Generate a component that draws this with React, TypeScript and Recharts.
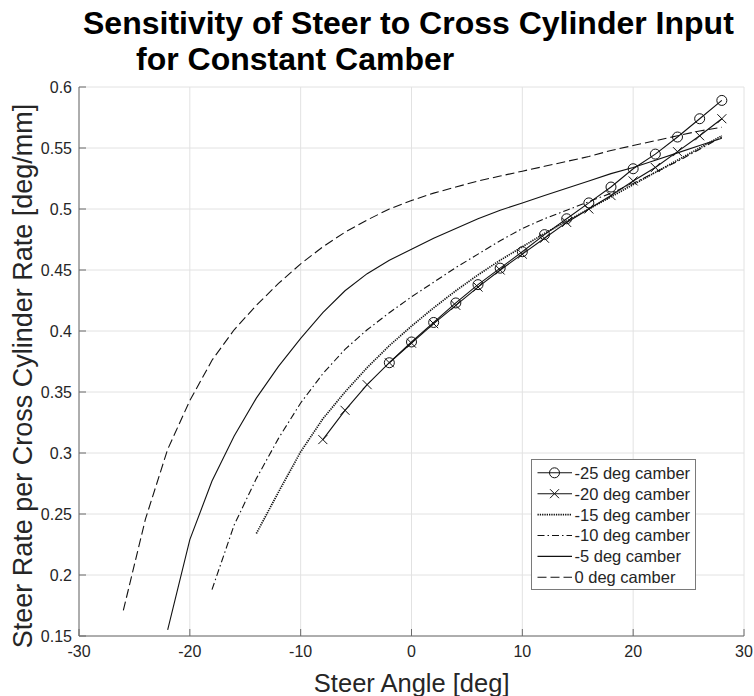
import React from 'react';
import { LineChart, Line, XAxis, YAxis, CartesianGrid, Legend } from 'recharts';

// ---------- data ----------
const steer25 = [-2, 0, 2, 4, 6, 8, 10, 12, 14, 16, 18, 20, 22, 24, 26, 28];
const rate25 = [0.374, 0.391, 0.407, 0.423, 0.438, 0.4515, 0.465, 0.479, 0.492, 0.505, 0.518, 0.533, 0.545, 0.559, 0.574, 0.589];

const steer20 = [-8, -6, -4, -2, 0, 2, 4, 6, 8, 10, 12, 14, 16, 18, 20, 22, 24, 26, 28];
const rate20 = [0.311, 0.335, 0.356, 0.374, 0.39, 0.406, 0.421, 0.436, 0.45, 0.463, 0.476, 0.489, 0.5, 0.511, 0.523, 0.534, 0.547, 0.56, 0.574];

const steer15 = [-14, -12, -10, -8, -6, -4, -2, 0, 2, 4, 6, 8, 10, 12, 14, 16, 18, 20, 22, 24, 26, 28];
const rate15 = [0.234, 0.268, 0.301, 0.328, 0.35, 0.37, 0.388, 0.404, 0.419, 0.433, 0.446, 0.458, 0.469, 0.48, 0.49, 0.5, 0.51, 0.52, 0.53, 0.54, 0.55, 0.56];

const steer10 = [-18, -16, -14, -12, -10, -8, -6, -4, -2, 0, 2, 4, 6, 8, 10, 12, 14, 16, 18, 20, 22, 24, 26, 28];
const rate10 = [0.188, 0.241, 0.279, 0.312, 0.341, 0.365, 0.385, 0.401, 0.415, 0.428, 0.44, 0.452, 0.463, 0.474, 0.484, 0.492, 0.499, 0.506, 0.513, 0.521, 0.53, 0.539, 0.549, 0.559];

const steer5 = [-22, -20, -18, -16, -14, -12, -10, -8, -6, -4, -2, 0, 2, 4, 6, 8, 10, 12, 14, 16, 18, 20, 22, 24, 26, 28];
const rate5 = [0.155, 0.229, 0.277, 0.314, 0.345, 0.371, 0.394, 0.415, 0.433, 0.447, 0.458, 0.467, 0.476, 0.484, 0.492, 0.499, 0.505, 0.511, 0.517, 0.523, 0.529, 0.534, 0.54, 0.546, 0.552, 0.558];

const steer0 = [-26, -24, -22, -20, -18, -16, -14, -12, -10, -8, -6, -4, -2, 0, 2, 4, 6, 8, 10, 12, 14, 16, 18, 20, 22, 24, 26, 28];
const rate0 = [0.171, 0.246, 0.303, 0.343, 0.376, 0.401, 0.421, 0.439, 0.455, 0.469, 0.481, 0.491, 0.5, 0.507, 0.513, 0.518, 0.523, 0.527, 0.531, 0.535, 0.539, 0.543, 0.548, 0.552, 0.556, 0.56, 0.564, 0.567];

const seriesNames = ['-25 deg camber', '-20 deg camber', '-15 deg camber', '-10 deg camber', '-5 deg camber', '0 deg camber'];

const xTicks = [-30, -20, -10, 0, 10, 20, 30];
const yTicks = [0.15, 0.2, 0.25, 0.3, 0.35, 0.4, 0.45, 0.5, 0.55, 0.6];

const titleLine1 = 'Sensitivity of Steer to Cross Cylinder Input';
const titleLine2 = 'for Constant Camber';
const xLabel = 'Steer Angle [deg]';
const yLabel = 'Steer Rate per Cross Cylinder Rate [deg/mm]';

// ---------- style ----------
const FONT = '"Liberation Sans", Arial, Helvetica, sans-serif';
const INK = '#111111';
const AXIS = '#6a6a6a';
const TICKTXT = '#262626';
const GRID = '#e2e2e2';

type Marker = 'o' | 'x' | null;
interface SeriesDef { name: string; steer: number[]; rate: number[]; dash?: string; width: number; marker: Marker; }

const series: SeriesDef[] = [
  { name: seriesNames[0], steer: steer25, rate: rate25, width: 1.1, marker: 'o' },
  { name: seriesNames[1], steer: steer20, rate: rate20, width: 1.1, marker: 'x' },
  { name: seriesNames[2], steer: steer15, rate: rate15, dash: '1.3 1', width: 1.7, marker: null },
  { name: seriesNames[3], steer: steer10, rate: rate10, dash: '7 3 1.5 3', width: 1.1, marker: null },
  { name: seriesNames[4], steer: steer5, rate: rate5, width: 1.1, marker: null },
  { name: seriesNames[5], steer: steer0, rate: rate0, dash: '9 4', width: 1.1, marker: null },
];

const toData = (s: SeriesDef) => s.steer.map((x, i) => ({ x, y: s.rate[i] }));

const MarkerShape = ({ kind, cx, cy }: { kind: Marker; cx: number; cy: number }) => {
  if (kind === 'o') return <circle cx={cx} cy={cy} r={5} fill="none" stroke={INK} strokeWidth={1} />;
  if (kind === 'x')
    return (
      <path
        d={`M${cx - 4.5},${cy - 4.5}L${cx + 4.5},${cy + 4.5}M${cx - 4.5},${cy + 4.5}L${cx + 4.5},${cy - 4.5}`}
        stroke={INK}
        strokeWidth={1}
        fill="none"
      />
    );
  return null;
};

const makeDot = (kind: Marker) => (p: any) => (
  <g key={`d-${p.index}`}>
    <MarkerShape kind={kind} cx={p.cx} cy={p.cy} />
  </g>
);

// ---------- ticks ----------
const BottomTick = (p: any) => (
  <g>
    <line x1={p.x} y1={p.y} x2={p.x} y2={p.y - 7} stroke={AXIS} strokeWidth={1} />
    <text x={p.x} y={p.y + 21} textAnchor="middle" fontSize={16} fontFamily={FONT} fill={TICKTXT}>
      {String(p.payload.value)}
    </text>
  </g>
);
const TopTick = (p: any) => (
  <line x1={p.x} y1={p.y} x2={p.x} y2={p.y + 7} stroke={AXIS} strokeWidth={1} />
);
const LeftTick = (p: any) => (
  <g>
    <line x1={p.x} y1={p.y} x2={p.x + 7} y2={p.y} stroke={AXIS} strokeWidth={1} />
    <text x={p.x - 7} y={p.y + 5.8} textAnchor="end" fontSize={16} fontFamily={FONT} fill={TICKTXT}>
      {String(p.payload.value)}
    </text>
  </g>
);
const RightTick = (p: any) => (
  <line x1={p.x} y1={p.y} x2={p.x - 7} y2={p.y} stroke={AXIS} strokeWidth={1} />
);

// ---------- legend ----------
const LegendBox = () => (
  <svg width={166} height={132} style={{ display: 'block' }}>
    <rect x={0.5} y={0.5} width={164} height={130} fill="#ffffff" stroke="#7a7a7a" strokeWidth={1} />
    {series.map((s, i) => {
      const cy = 13.8 + i * 20.9;
      return (
        <g key={s.name}>
          <line x1={6.5} y1={cy} x2={41} y2={cy} stroke={INK} strokeWidth={s.width} strokeDasharray={s.dash} />
          <MarkerShape kind={s.marker} cx={23.5} cy={cy} />
          <text x={43.5} y={cy + 5.9} fontSize={16.5} fontFamily={FONT} fill={TICKTXT}>
            {s.name}
          </text>
        </g>
      );
    })}
  </svg>
);

export default function App() {
  return (
    <div style={{ position: 'absolute', left: 0, top: 0, width: 754, height: 696, background: '#ffffff' }}>
      <LineChart width={754} height={696} margin={{ top: 87, right: 10, bottom: 0, left: 0 }}>
        <CartesianGrid stroke={GRID} strokeWidth={1} />
        <XAxis
          type="number"
          dataKey="x"
          domain={[-30, 30]}
          ticks={xTicks}
          interval={0}
          height={60}
          tickSize={0}
          tickMargin={0}
          tickLine={false}
          axisLine={{ stroke: AXIS, strokeWidth: 1 }}
          tick={BottomTick}
          allowDuplicatedCategory={false}
        />
        <XAxis
          xAxisId="top"
          orientation="top"
          type="number"
          dataKey="x"
          domain={[-30, 30]}
          ticks={xTicks}
          interval={0}
          height={0}
          tickSize={0}
          tickMargin={0}
          tickLine={false}
          axisLine={{ stroke: AXIS, strokeWidth: 1 }}
          tick={TopTick}
        />
        <YAxis
          type="number"
          domain={[0.15, 0.6]}
          ticks={yTicks}
          interval={0}
          width={79}
          tickSize={0}
          tickMargin={0}
          tickLine={false}
          axisLine={{ stroke: AXIS, strokeWidth: 1 }}
          tick={LeftTick}
        />
        <YAxis
          yAxisId="right"
          orientation="right"
          type="number"
          domain={[0.15, 0.6]}
          ticks={yTicks}
          interval={0}
          width={0}
          tickSize={0}
          tickMargin={0}
          tickLine={false}
          axisLine={{ stroke: AXIS, strokeWidth: 1 }}
          tick={RightTick}
        />
        {series.map((s) => (
          <Line
            key={s.name}
            name={s.name}
            data={toData(s)}
            dataKey="y"
            type="linear"
            stroke={INK}
            strokeWidth={s.width}
            strokeDasharray={s.dash}
            dot={s.marker ? makeDot(s.marker) : false}
            activeDot={false}
            isAnimationActive={false}
          />
        ))}
        <Legend
          layout="horizontal"
          verticalAlign="middle"
          align="center"
          wrapperStyle={{ position: 'absolute', left: 531, top: 459, width: 166, height: 132, margin: 0, padding: 0 }}
          content={() => <LegendBox />}
        />
      </LineChart>
      <svg
        width={754}
        height={696}
        style={{ position: 'absolute', left: 0, top: 0, pointerEvents: 'none' }}
      >
        <text x={83} y={34} fontSize={32} fontWeight="bold" fontFamily={FONT} fill="#000">
          {titleLine1}
        </text>
        <text x={136} y={70} fontSize={32} fontWeight="bold" fontFamily={FONT} fill="#000">
          {titleLine2}
        </text>
        <text x={411.7} y={692} textAnchor="middle" fontSize={25.5} fontFamily={FONT} fill={TICKTXT}>
          {xLabel}
        </text>
        <text
          x={0}
          y={0}
          transform="translate(32,376) rotate(-90)"
          textAnchor="middle"
          fontSize={27}
          fontFamily={FONT}
          fill={TICKTXT}
        >
          {yLabel}
        </text>
      </svg>
    </div>
  );
}
